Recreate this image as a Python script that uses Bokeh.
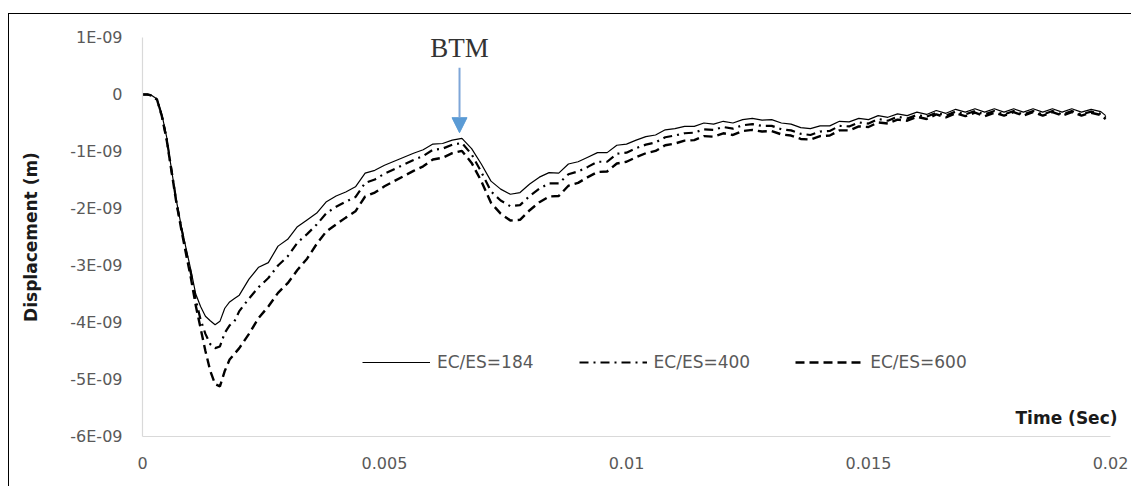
from bokeh.plotting import figure
from bokeh.models import (FixedTicker, Label, Arrow, NormalHead, Legend, LegendItem,
                          Range1d, ColumnDataSource, InlineStyleSheet)
from bokeh.embed import file_html
from bokeh.resources import INLINE

# ---------------- data (displacement in units of 1E-09 m) ----------------
TIME = [0, 0.0001, 0.0002, 0.0003, 0.0004, 0.0005, 0.0006, 0.0007, 0.0008, 0.0009,
        0.001, 0.0011, 0.0012, 0.0013, 0.0014, 0.0015, 0.0016, 0.0017, 0.0018, 0.0019, 0.002,
        0.0022, 0.0024, 0.0026, 0.0028, 0.003, 0.0032, 0.0034, 0.0036, 0.0038, 0.004,
        0.0042, 0.0044, 0.0046, 0.0048, 0.005, 0.0052, 0.0054, 0.0056, 0.0058, 0.006,
        0.0062, 0.0064, 0.0066, 0.0068, 0.007, 0.0072, 0.0074, 0.0076, 0.0078, 0.008,
        0.0082, 0.0084, 0.0086, 0.0088, 0.009, 0.0092, 0.0094, 0.0096, 0.0098, 0.01,
        0.0102, 0.0104, 0.0106, 0.0108, 0.011, 0.0112, 0.0114, 0.0116, 0.0118, 0.012,
        0.0122, 0.0124, 0.0126, 0.0128, 0.013, 0.0132, 0.0134, 0.0136, 0.0138, 0.014,
        0.0142, 0.0144, 0.0146, 0.0148, 0.015, 0.0152, 0.0154, 0.0156, 0.0158, 0.016,
        0.0162, 0.0164, 0.0166, 0.0168, 0.017, 0.0172, 0.0174, 0.0176, 0.0178, 0.018,
        0.0182, 0.0184, 0.0186, 0.0188, 0.019, 0.0192, 0.0194, 0.0196, 0.0198, 0.0199]

EC_ES_184 = [0, 0, -0.02, -0.08, -0.35, -0.75, -1.32, -1.86, -2.30, -2.70,
             -3.08, -3.50, -3.72, -3.89, -3.97, -4.04, -3.98, -3.75, -3.64, -3.58, -3.52,
             -3.24, -3.03, -2.95, -2.66, -2.54, -2.32, -2.20, -2.08, -1.88, -1.78,
             -1.71, -1.62, -1.38, -1.33, -1.24, -1.17, -1.10, -1.03, -0.97, -0.87,
             -0.86, -0.80, -0.77, -0.95, -1.22, -1.52, -1.66, -1.75, -1.72, -1.57,
             -1.45, -1.37, -1.38, -1.22, -1.18, -1.10, -1.02, -1.02, -0.89, -0.87,
             -0.80, -0.74, -0.71, -0.62, -0.60, -0.56, -0.56, -0.50, -0.52, -0.47,
             -0.50, -0.44, -0.42, -0.45, -0.44, -0.50, -0.52, -0.58, -0.60, -0.55,
             -0.55, -0.47, -0.48, -0.42, -0.44, -0.37, -0.40, -0.34, -0.37, -0.31,
             -0.35, -0.28, -0.33, -0.26, -0.31, -0.25, -0.31, -0.25, -0.31, -0.25,
             -0.31, -0.25, -0.31, -0.25, -0.31, -0.25, -0.31, -0.26, -0.30, -0.37]

EC_ES_400 = [0, 0, -0.02, -0.09, -0.37, -0.78, -1.33, -1.88, -2.33, -2.75,
             -3.14, -3.60, -3.95, -4.20, -4.38, -4.45, -4.42, -4.18, -4.05, -3.98, -3.80,
             -3.58, -3.38, -3.22, -3.00, -2.84, -2.60, -2.45, -2.28, -2.08, -1.97,
             -1.88, -1.80, -1.55, -1.49, -1.39, -1.31, -1.23, -1.15, -1.08, -0.97,
             -0.95, -0.88, -0.85, -1.05, -1.36, -1.70, -1.86, -1.96, -1.94, -1.78,
             -1.65, -1.56, -1.56, -1.40, -1.35, -1.27, -1.18, -1.18, -1.04, -1.02,
             -0.94, -0.88, -0.84, -0.75, -0.72, -0.68, -0.67, -0.61, -0.62, -0.57,
             -0.60, -0.54, -0.52, -0.55, -0.55, -0.61, -0.63, -0.69, -0.71, -0.65,
             -0.64, -0.55, -0.56, -0.49, -0.51, -0.43, -0.46, -0.39, -0.42, -0.36,
             -0.39, -0.32, -0.37, -0.30, -0.35, -0.29, -0.35, -0.29, -0.35, -0.29,
             -0.35, -0.29, -0.35, -0.29, -0.35, -0.29, -0.35, -0.30, -0.34, -0.40]

EC_ES_600 = [0, 0, -0.02, -0.09, -0.38, -0.80, -1.35, -1.90, -2.36, -2.80,
             -3.22, -3.70, -4.10, -4.50, -4.85, -5.08, -5.12, -4.85, -4.65, -4.55, -4.45,
             -4.20, -3.92, -3.72, -3.48, -3.31, -3.08, -2.88, -2.62, -2.40, -2.28,
             -2.16, -2.05, -1.79, -1.72, -1.61, -1.52, -1.43, -1.34, -1.26, -1.14,
             -1.11, -1.03, -0.99, -1.20, -1.52, -1.90, -2.09, -2.21, -2.20, -2.03,
             -1.89, -1.79, -1.78, -1.60, -1.55, -1.45, -1.36, -1.35, -1.21, -1.18,
             -1.10, -1.03, -0.99, -0.89, -0.86, -0.81, -0.80, -0.73, -0.74, -0.68,
             -0.71, -0.64, -0.62, -0.65, -0.64, -0.70, -0.72, -0.78, -0.79, -0.73,
             -0.72, -0.63, -0.63, -0.56, -0.57, -0.49, -0.51, -0.44, -0.46, -0.39,
             -0.43, -0.35, -0.40, -0.33, -0.38, -0.32, -0.38, -0.32, -0.37, -0.31,
             -0.37, -0.31, -0.37, -0.31, -0.37, -0.31, -0.37, -0.32, -0.36, -0.43]

SERIES_NAMES = ["EC/ES=184", "EC/ES=400", "EC/ES=600"]
X_TICKS = [0, 0.005, 0.01, 0.015, 0.02]
X_TICK_LABELS = ["0", "0.005", "0.01", "0.015", "0.02"]
Y_TICKS = [1, 0, -1, -2, -3, -4, -5, -6]
Y_TICK_LABELS = ["1E-09", "0", "-1E-09", "-2E-09", "-3E-09", "-4E-09", "-5E-09", "-6E-09"]
BTM_TIME = 0.00655

# frame extends a little past 0.02 so the "Time (Sec)" label is not clipped
X_END = 0.02 * 979 / 968

src = ColumnDataSource(dict(t=TIME, a=EC_ES_184, b=EC_ES_400, c=EC_ES_600))

p = figure(width=1131, height=486, x_range=Range1d(0, X_END), y_range=Range1d(-6, 1),
           output_backend="svg", toolbar_location=None,
           min_border_left=142, min_border_right=10, min_border_top=37, min_border_bottom=50)
p.outline_line_color = None
p.xgrid.visible = False
p.ygrid.visible = False
p.background_fill_color = "white"
p.border_fill_color = "white"

TICK_FONT = "DejaVu Sans"
for ax in (p.xaxis[0], p.yaxis[0]):
    ax.axis_line_color = "#d9d9d9"
    ax.axis_line_width = 1.2
    ax.major_tick_line_color = None
    ax.minor_tick_line_color = None
    ax.major_tick_out = 0
    ax.major_tick_in = 0
    ax.major_label_text_font = TICK_FONT
    ax.major_label_text_font_size = "16px"
    ax.major_label_text_color = "#595959"

p.xaxis.ticker = FixedTicker(ticks=X_TICKS)
p.xaxis.major_label_overrides = dict(zip(X_TICKS, X_TICK_LABELS))
p.xaxis.major_label_standoff = 20
p.xaxis.bounds = (0, 0.02)

p.yaxis.ticker = FixedTicker(ticks=Y_TICKS)
p.yaxis.major_label_overrides = dict(zip(Y_TICKS, Y_TICK_LABELS))
p.yaxis.major_label_standoff = 20
p.yaxis.axis_label = "Displacement (m)"
p.yaxis.axis_label_text_font = "DejaVu Sans"
p.yaxis.axis_label_text_font_style = "bold"
p.yaxis.axis_label_text_font_size = "17px"
p.yaxis.axis_label_text_color = "#1a1a1a"
p.yaxis.axis_label_standoff = 26

r1 = p.line("t", "a", source=src, line_color="black", line_width=1.2)
r2 = p.line("t", "b", source=src, line_color="black", line_width=2.2, line_dash="9 5 2 5")
r3 = p.line("t", "c", source=src, line_color="black", line_width=2.4, line_dash="9 5")

legend = Legend(items=[LegendItem(label=SERIES_NAMES[0], renderers=[r1]),
                       LegendItem(label=SERIES_NAMES[1], renderers=[r2]),
                       LegendItem(label=SERIES_NAMES[2], renderers=[r3])],
                orientation="horizontal", location=(220, 64),
                border_line_color=None, background_fill_alpha=0,
                glyph_width=68, glyph_height=20, label_height=20,
                label_standoff=7, spacing=45, padding=0, margin=0,
                label_text_font="DejaVu Sans", label_text_font_size="17px",
                label_text_color="#595959")
p.add_layout(legend)

p.add_layout(Label(x=0.02, y=-5.68, x_offset=7, text="Time (Sec)", text_align="right",
                   text_baseline="middle", text_font="DejaVu Sans", text_font_style="bold",
                   text_font_size="17px", text_color="#1a1a1a"))

p.add_layout(Label(x=BTM_TIME, y=0.82, text="BTM", text_align="center",
                   text_baseline="middle", text_font="Liberation Serif",
                   text_font_size="27px", text_color="#333333"))
p.add_layout(Arrow(end=NormalHead(size=15, fill_color="#5b9bd5", line_color="#5b9bd5"),
                   x_start=BTM_TIME, y_start=0.47, x_end=BTM_TIME, y_end=-0.67,
                   line_color="#7ea6d8", line_width=2))

# chart-area border (top and left edges visible in the reference crop)
p.stylesheets = [InlineStyleSheet(css="""
:host { position: relative; }
:host::after {
  content: "";
  position: absolute;
  left: 8px; top: 13px; right: 0px; bottom: 0px;
  border-top: 1.5px solid black;
  border-left: 1.5px solid black;
  pointer-events: none;
  z-index: 100;
}
""")]

open("out.html", "w").write(file_html(p, INLINE))
